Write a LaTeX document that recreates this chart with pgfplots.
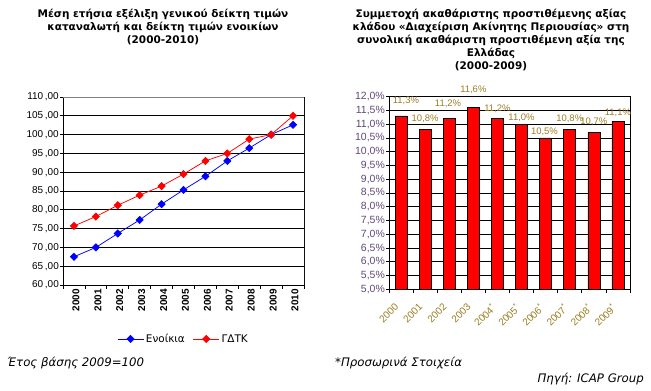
\documentclass[border=0pt]{standalone}
\usepackage{pgfplots}
\pgfplotsset{compat=1.18}
\usepackage{fontspec}
\setmainfont{DejaVu Sans}
\newfontfamily\arial{Liberation Sans}
\definecolor{lblgold}{HTML}{9A7D22}
\definecolor{ytickpurple}{HTML}{604878}
\definecolor{framegray}{HTML}{808080}
\begin{document}
\begin{tikzpicture}
\useasboundingbox (0bp,0bp) rectangle (651bp,-391bp);
% titles
\node[font=\fontsize{10.5}{13}\selectfont\bfseries, align=center, anchor=north, inner sep=0pt] at (163bp,-9bp) {Μέση ετήσια εξέλιξη γενικού δείκτη τιμών\\καταναλωτή και δείκτη τιμών ενοικίων\\(2000-2010)};
\node[font=\fontsize{10.5}{13}\selectfont\bfseries, align=center, anchor=north, inner sep=0pt] at (491bp,-9bp) {Συμμετοχή ακαθάριστης προστιθέμενης αξίας\\κλάδου «Διαχείριση Ακίνητης Περιουσίας» στη\\συνολική ακαθάριστη προστιθέμενη αξία της\\Ελλάδας\\(2000-2009)};
% footnotes
\node[font=\fontsize{11.8}{13}\selectfont\itshape, anchor=west, inner sep=0pt] at (7bp,-363bp) {Έτος βάσης 2009=100};
\node[font=\fontsize{11.8}{13}\selectfont\itshape, anchor=west, inner sep=0pt] at (335bp,-363bp) {*Προσωρινά Στοιχεία};
\node[font=\fontsize{11.8}{13}\selectfont\itshape, anchor=east, inner sep=0pt] at (644bp,-379bp) {Πηγή: ICAP Group};

% left chart
\begin{axis}[at={(63bp,-97bp)}, anchor=north west, scale only axis, width=241bp, height=188bp,
  xmin=-0.5, xmax=10.5, ymin=60, ymax=110,
  xtick={0,...,10},
  xticklabels={2000,2001,2002,2003,2004,2005,2006,2007,2008,2009,2010},
  major x tick style={draw=none},
  minor xtick={-0.5,0.5,...,10.5},
  ytick={60,65,...,110},
  yticklabels={{60\,,00},{65\,,00},{70\,,00},{75\,,00},{80\,,00},{85\,,00},{90\,,00},{95\,,00},{100\,,00},{105\,,00},{110\,,00}},
  tick align=outside, xtick pos=bottom, ytick pos=left,
  major tick length=3bp, minor tick length=4bp,
  tick style={black, line width=0.75bp},
  axis line style={black, line width=0.75bp},
  ymajorgrids, grid style={black, line width=0.75bp},
  yticklabel style={font=\arial\fontsize{10}{12}\selectfont, inner sep=1bp},
  xticklabel style={font=\arial\bfseries\fontsize{10}{12}\selectfont, rotate=90, anchor=east, inner sep=1bp, yshift=-2bp},
  legend style={at={(0.5,-0.287)}, anchor=center, draw=none, fill=none,
    font=\fontsize{10.5}{12}\selectfont, legend columns=2,
    /tikz/every even column/.append style={column sep=6bp}},
  legend image code/.code={\draw[mark repeat=2,mark phase=2,#1] plot coordinates {(0bp,0bp) (13bp,0bp) (26bp,0bp)};},
]
\addplot[blue, line width=0.75bp, mark=square*, mark size=2.5bp, mark options={rotate=45, solid}] coordinates {
(0,67.5) (1,70.0) (2,73.7) (3,77.3) (4,81.5) (5,85.3) (6,88.9) (7,93.0) (8,96.4) (9,100.0) (10,102.6)};
\addlegendentry{Ενοίκια}
\addplot[red, line width=0.75bp, mark=square*, mark size=2.5bp, mark options={rotate=45, solid}] coordinates {
(0,75.7) (1,78.2) (2,81.2) (3,83.9) (4,86.3) (5,89.5) (6,93.0) (7,95.0) (8,98.8) (9,100.0) (10,105.0)};
\addlegendentry{ΓΔΤΚ}
\draw[framegray, line width=0.75bp] (rel axis cs:0,1) -- (rel axis cs:1,1) -- (rel axis cs:1,0);
\end{axis}

% right chart
\begin{axis}[at={(389bp,-96.7bp)}, anchor=north west, scale only axis, width=241bp, height=192.6bp,
  xmin=-0.5, xmax=9.5, ymin=5, ymax=12,
  xtick={0,...,9},
  xticklabels={2000,2001,2002,2003,2004\textsuperscript{*},2005\textsuperscript{*},2006\textsuperscript{*},2007\textsuperscript{*},2008\textsuperscript{*},2009\textsuperscript{*}},
  major x tick style={draw=none},
  minor xtick={-0.5,0.5,...,9.5},
  ytick={5,5.5,6,6.5,7,7.5,8,8.5,9,9.5,10,10.5,11,11.5,12},
  yticklabels={{5,0\%},{5,5\%},{6,0\%},{6,5\%},{7,0\%},{7,5\%},{8,0\%},{8,5\%},{9,0\%},{9,5\%},{10,0\%},{10,5\%},{11,0\%},{11,5\%},{12,0\%}},
  tick align=outside, xtick pos=bottom, ytick pos=left,
  major tick length=3bp, minor tick length=4bp,
  tick style={black, line width=0.75bp},
  axis line style={black, line width=0.75bp},
  ymajorgrids, grid style={black, line width=0.75bp},
  yticklabel style={font=\arial\fontsize{10.5}{12}\selectfont, text=ytickpurple, inner sep=1bp},
  xticklabel style={font=\arial\fontsize{10}{12}\selectfont, text=lblgold, xshift=-7bp, yshift=-9bp, rotate=45, anchor=north east, inner sep=1bp},
]
\addplot[ybar, bar width=12bp, bar shift=0pt, fill=red, draw=black, line width=0.6bp] coordinates {
(0,11.3) (1,10.8) (2,11.2) (3,11.6) (4,11.2) (5,11.0) (6,10.5) (7,10.8) (8,10.7) (9,11.1)};
\end{axis}
\begin{axis}[at={(389bp,-96.7bp)}, anchor=north west, scale only axis, width=241bp, height=192.6bp,
  xmin=-0.5, xmax=9.5, ymin=5, ymax=12, clip=false, axis lines=none,
  nodes near coords, point meta=explicit symbolic,
  nodes near coords style={anchor=center, inner sep=0pt, font=\arial\fontsize{9.5}{11}\selectfont, text=lblgold},
]
\addplot[draw=none, mark=none] coordinates {
(0.2,11.85) [11,3\%] (1,11.21) [10,8\%] (1.95,11.73) [11,2\%] (3,12.24) [11,6\%] (4,11.55) [11,2\%]
(5,11.25) [11,0\%] (5.95,10.73) [10,5\%] (7,11.21) [10,8\%] (8,11.09) [10,7\%] (9,11.43) [11,1\%]};
\end{axis}
\end{tikzpicture}
\end{document}
